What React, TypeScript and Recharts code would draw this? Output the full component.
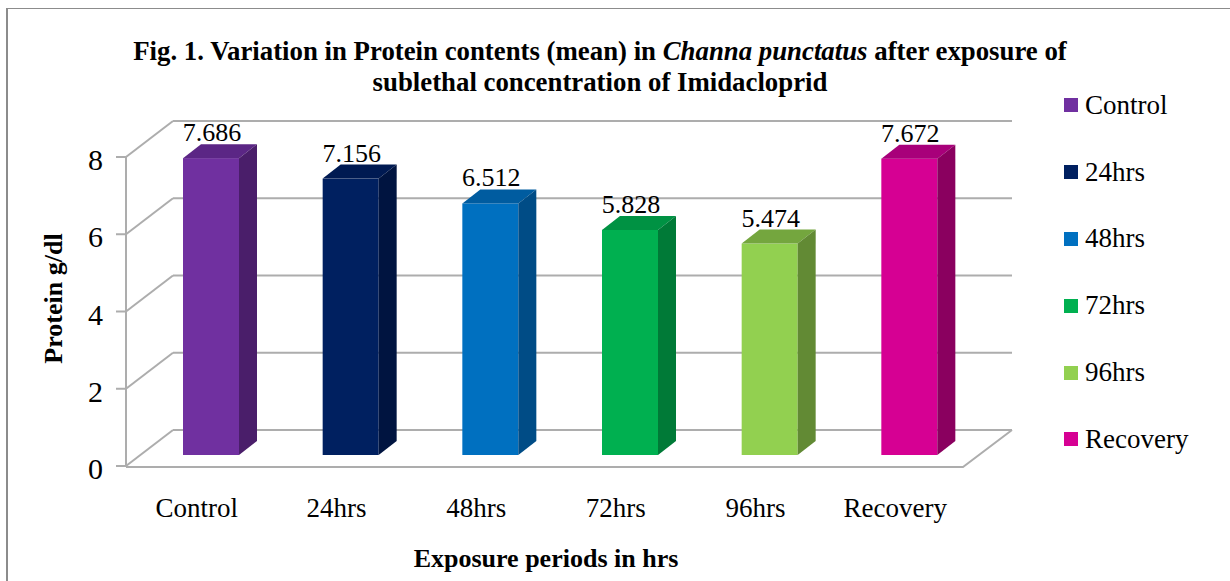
import React from 'react';
import { BarChart, Bar, XAxis, YAxis, CartesianGrid, ReferenceArea, LabelList, Legend, Label } from 'recharts';

const categories = ['Control', '24hrs', '48hrs', '72hrs', '96hrs', 'Recovery'];
const proteinMeans = [7.686, 7.156, 6.512, 5.828, 5.474, 7.672];
const yTicks = [0, 2, 4, 6, 8];

const frontColors = ['#7030A0', '#002060', '#0070C0', '#00B050', '#92D050', '#D60093'];
const sideColors = ['#4A1E6A', '#001440', '#004C86', '#007A37', '#628A34', '#8A005F'];
const topColors = ['#5B2685', '#001A52', '#005CA0', '#009243', '#74A63E', '#A8007A'];

const data = categories.map((name, i) => ({ name, value: proteinMeans[i] }));

const SERIF = '"Liberation Serif", "Times New Roman", serif';
const GRID = '#ADADAD';
// fake 3D box: bars sit mid-depth, front edge is shifted down-left, back wall up-right
const FRONT_X = 126;
const FRONT_DY = 11;
const BACK_X = 173;
const BACK_DY = -25;
const BAR_DX = 18;
const BAR_DY = 14;

const gridLine = (p: any) => (
  <g key={p.key}>
    <line x1={FRONT_X} y1={p.y1 + FRONT_DY} x2={BACK_X} y2={p.y1 + BACK_DY} stroke={GRID} strokeWidth={2} />
    <line x1={BACK_X} y1={p.y1 + BACK_DY} x2={p.x2 + 33} y2={p.y1 + BACK_DY} stroke={GRID} strokeWidth={2} />
  </g>
);

const frame = (p: any) => {
  const bottom = p.y + p.height;
  const right = p.x + p.width;
  return (
    <g>
      <line x1={FRONT_X} y1={p.y + FRONT_DY} x2={FRONT_X} y2={bottom + FRONT_DY + 1} stroke={GRID} strokeWidth={2} />
      <polyline
        points={`${FRONT_X},${bottom + 12} ${right - 16},${bottom + 12} ${right + 33},${bottom + BACK_DY}`}
        fill="none"
        stroke={GRID}
        strokeWidth={2}
      />
    </g>
  );
};

const Bar3D = (p: any) => {
  const { x, y, width, height, index } = p;
  const r = x + width;
  return (
    <g>
      <rect x={x} y={y} width={width} height={height} fill={frontColors[index]} />
      <polygon
        points={`${x},${y} ${x + BAR_DX},${y - BAR_DY} ${r + BAR_DX},${y - BAR_DY} ${r},${y}`}
        fill={topColors[index]}
      />
      <polygon
        points={`${r},${y} ${r + BAR_DX},${y - BAR_DY} ${r + BAR_DX},${y + height - BAR_DY} ${r},${y + height}`}
        fill={sideColors[index]}
      />
    </g>
  );
};

const XTick = (p: any) => (
  <text x={p.x - 14} y={p.y + 54} textAnchor="middle" fontFamily={SERIF} fontSize={27} fill="#000">
    {p.payload.value}
  </text>
);

const YTick = (p: any) => (
  <g>
    <line x1={FRONT_X - 10} y1={p.y + FRONT_DY} x2={FRONT_X} y2={p.y + FRONT_DY} stroke={GRID} strokeWidth={2} />
    <text x={103} y={p.y + 24} textAnchor="end" fontFamily={SERIF} fontSize={30} fill="#000">
      {p.payload.value}
    </text>
  </g>
);

const renderValue = (p: any) => (
  <text x={p.x + p.width / 2 + 1} y={p.y - 17} textAnchor="middle" fontFamily={SERIF} fontSize={26} fill="#000">
    {Number(p.value).toFixed(3)}
  </text>
);

const renderLegend = () => (
  <div style={{ fontFamily: SERIF, fontSize: 27, color: '#000' }}>
    {categories.map((c, i) => (
      <div key={c} style={{ height: 66.8, display: 'flex', alignItems: 'center' }}>
        <span style={{ display: 'inline-block', width: 14, height: 14, background: frontColors[i], marginRight: 7 }} />
        {c}
      </div>
    ))}
  </div>
);

export default function App() {
  return (
    <div style={{ position: 'absolute', left: 0, top: 0, width: 1230, height: 581, overflow: 'hidden', background: '#fff' }}>
      <div
        style={{
          position: 'absolute',
          left: 6,
          top: 8,
          width: 1400,
          height: 800,
          borderLeft: '2px solid #8C8C8C',
          borderTop: '1px solid #8C8C8C',
        }}
      />
      <div
        style={{
          position: 'absolute',
          left: 0,
          top: 36,
          width: 1200,
          textAlign: 'center',
          fontFamily: SERIF,
          fontWeight: 'bold',
          fontSize: 26.8,
          lineHeight: '31px',
          color: '#000',
        }}
      >
        Fig. 1. Variation in Protein contents (mean) in <i>Channa punctatus</i> after exposure of
        <br />
        sublethal concentration of Imidacloprid
      </div>
      <div style={{ position: 'absolute', left: 0, top: 0 }}>
        <BarChart width={1230} height={581} data={data} margin={{ top: 146, right: 251, bottom: 0, left: 0 }}>
          <CartesianGrid vertical={false} horizontal={gridLine} />
          <ReferenceArea y1={0} y2={8} shape={frame} />
          <XAxis dataKey="name" height={126} axisLine={false} tickLine={false} interval={0} tick={XTick}>
            <Label
              content={(lp: any) => (
                <text
                  x={lp.viewBox.x + lp.viewBox.width / 2 - 14}
                  y={lp.viewBox.y + 112}
                  textAnchor="middle"
                  fontFamily={SERIF}
                  fontWeight="bold"
                  fontSize={26}
                  fill="#000"
                >
                  Exposure periods in hrs
                </text>
              )}
            />
          </XAxis>
          <YAxis
            type="number"
            domain={[0, 8]}
            ticks={yTicks}
            width={141}
            axisLine={false}
            tickLine={false}
            interval={0}
            tick={YTick}
          >
            <Label
              content={(lp: any) => {
                const cy = lp.viewBox.y + lp.viewBox.height / 2 - 2;
                return (
                  <text
                    x={62}
                    y={cy}
                    transform={`rotate(-90, 62, ${cy})`}
                    textAnchor="middle"
                    fontFamily={SERIF}
                    fontWeight="bold"
                    fontSize={26}
                    fill="#000"
                  >
                    Protein g/dl
                  </text>
                );
              }}
            />
          </YAxis>
          <Legend
            layout="vertical"
            align="center"
            verticalAlign="middle"
            wrapperStyle={{ left: 1064, top: 72, width: 166 }}
            content={renderLegend}
          />
          <Bar dataKey="value" barSize={56} shape={Bar3D} isAnimationActive={false}>
            <LabelList dataKey="value" content={renderValue} />
          </Bar>
        </BarChart>
      </div>
    </div>
  );
}
